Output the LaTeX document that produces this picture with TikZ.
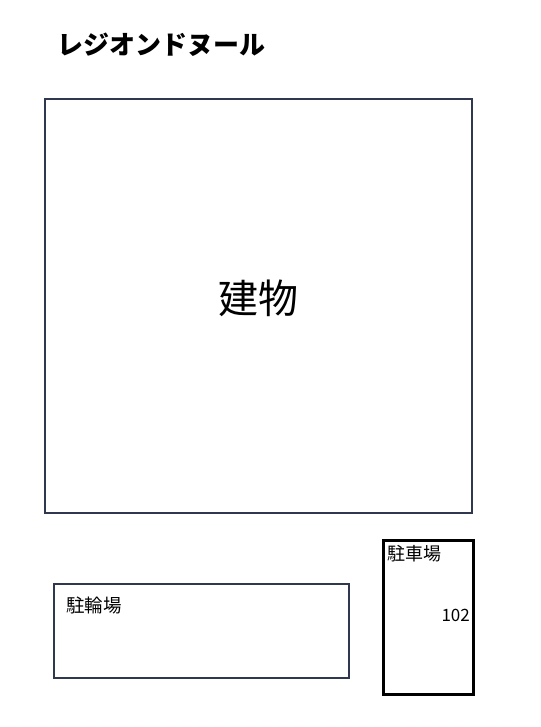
\documentclass[tikz,border=0pt]{standalone}
\usepackage{fontspec}
\newfontfamily\jp{Noto Sans CJK JP}
\usepackage{tikz}
\usetikzlibrary{calc}
\definecolor{plan}{RGB}{47,56,78}

\begin{document}
\begin{tikzpicture}[x=1pt,y=-1pt,font=\jp]
		\useasboundingbox (0,0) rectangle (540,727);
		\node[anchor=west,inner sep=0pt,font=\jp\bfseries\fontsize{26}{26}\selectfont](T) at (57,45){レジオンドヌール};
		
		\coordinate(B1) at (45,99);
		\coordinate(B2) at (472,513);
		\coordinate(C1) at (383.5,540.5);
		\coordinate(C2) at (473.5,694.5);
		\coordinate(R1) at (54,584);
		\coordinate(R2) at (349,678);
		
		\draw[plan,line width=1.2pt] (B1) rectangle (B2);
		\draw[black,line width=2.8pt] (C1) rectangle (C2);
		\draw[plan,line width=1.2pt] (R1) rectangle (R2);
		
		\node[font=\jp\fontsize{40}{40}\selectfont](BLD) at ($(B1)!0.5!(B2)+(0,-8)$){建物};
		\node[anchor=west,inner sep=0pt,font=\jp\fontsize{18}{18}\selectfont](CAR) at (387,554){駐車場};
		\node[anchor=east,inner sep=0pt,font=\jp\fontsize{17}{17}\selectfont](NUM) at (470,615){102};
		\node[anchor=west,inner sep=0pt,font=\jp\fontsize{18.5}{18.5}\selectfont](BIKE) at (66,605){駐輪場};
	\end{tikzpicture}
\end{document}
